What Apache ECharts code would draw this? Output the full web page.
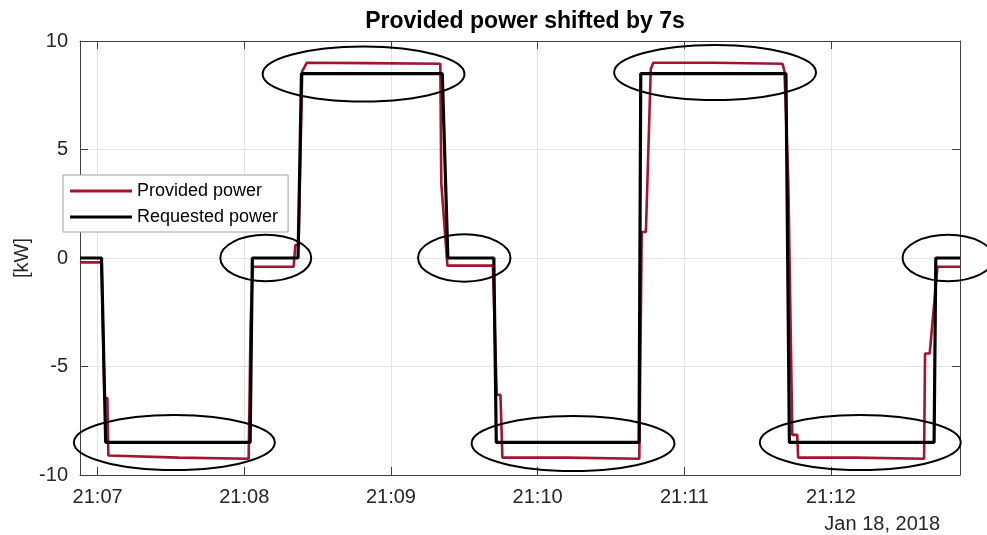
<!DOCTYPE html>
<html>
<head>
<meta charset="utf-8">
<script src="https://cdn.jsdelivr.net/npm/echarts@6/dist/echarts.min.js"></script>
<style>
  html, body { margin: 0; padding: 0; background: #fff; }
  #chart { width: 987px; height: 535px; }
</style>
</head>
<body>
<div id="chart"></div>
<script>
// Time values are seconds after 21:00:00 on Jan 18, 2018; power values in kW.
const timeRange = [412.8, 772.8];
const tickSeconds = [420, 480, 540, 600, 660, 720];
const tickLabels = ['21:07', '21:08', '21:09', '21:10', '21:11', '21:12'];
const dateLabel = 'Jan 18, 2018';

// Set-point issued to the unit: [time s, kW]
const requestedPower = [
  [412.8, 0], [421.6, 0], [423.3, -8.5], [482.4, -8.5], [483.3, 0],
  [502.0, 0], [503.4, 8.5], [561.0, 8.5], [563.3, 0], [582.1, 0],
  [583.1, -8.5], [641.5, -8.5], [642.2, 8.5], [701.6, 8.5], [703.0, -8.5],
  [762.2, -8.5], [762.9, 0], [772.8, 0]
];

// Measured output, already shifted by 7 s: [time s, kW]
const providedPower = [
  [412.8, -0.2], [421.6, -0.2], [422.8, -6.45], [424.0, -6.45], [424.4, -9.1],
  [453.0, -9.2], [481.8, -9.25], [482.6, -3.0], [483.5, -0.4], [500.2, -0.4],
  [500.9, 0.6], [502.2, 0.6], [503.7, 8.6], [504.4, 8.6], [505.6, 9.0],
  [530.0, 8.98], [560.2, 8.95], [560.6, 3.45], [563.1, -0.35], [581.7, -0.35],
  [583.3, -6.3], [584.8, -6.3], [585.6, -9.2], [612.0, -9.2], [641.6, -9.25],
  [642.6, 1.2], [644.3, 1.2], [646.3, 8.7], [647.3, 9.0], [672.0, 9.0],
  [700.2, 8.95], [701.0, 8.6], [702.6, 3.3], [703.4, 3.3], [704.2, -8.15],
  [706.2, -8.15], [706.6, -9.2], [730.0, -9.2], [758.1, -9.25], [758.5, -4.4],
  [760.4, -4.4], [763.6, -0.4], [772.8, -0.4]
];

// Ringed plateaus: [centre time s, centre kW, half width s, half height kW]
const highlights = [
  [451.4, -8.5, 41.1, 1.27],
  [528.8, 8.48, 41.3, 1.27],
  [488.8, 0.0, 18.6, 1.07],
  [570.0, 0.0, 18.9, 1.09],
  [614.5, -8.55, 41.5, 1.27],
  [672.6, 8.55, 41.3, 1.27],
  [732.0, -8.5, 41.1, 1.27],
  [767.9, 0.0, 18.6, 1.07]
];

const FONT = '"Liberation Sans", Arial, sans-serif';
const AXIS = '#404040';
const TEXT = '#262626';
const GRIDLINE = '#e3e3e3';
const RED = '#A2142F';

const chart = echarts.init(document.getElementById('chart'), null, { renderer: 'canvas' });

const boxAxis = {
  axisLine: { show: true, onZero: false, lineStyle: { color: AXIS, width: 1 } },
  axisLabel: { show: false },
  splitLine: { show: false }
};

chart.setOption({
  animation: false,
  backgroundColor: '#fff',
  textStyle: { fontFamily: FONT },
  title: {
    text: 'Provided power shifted by 7s',
    left: 520,
    top: 5,
    textAlign: 'center',
    textStyle: { fontSize: 23, fontWeight: 'bold', color: '#000', fontFamily: FONT }
  },
  grid: { left: 80, right: 27, top: 41, bottom: 60, containLabel: false, outerBoundsMode: 'none' },
  legend: {
    orient: 'vertical',
    left: 63,
    top: 175,
    padding: [7, 10, 6, 7],
    itemGap: 8,
    itemWidth: 62,
    itemHeight: 3,
    backgroundColor: '#fff',
    borderColor: '#a0a0a0',
    borderWidth: 1,
    textStyle: { fontSize: 18, color: '#000', fontFamily: FONT },
    data: [
      { name: 'Provided power', icon: 'rect' },
      { name: 'Requested power', icon: 'rect' }
    ]
  },
  xAxis: [
    {
      type: 'value',
      min: timeRange[0],
      max: timeRange[1],
      axisLine: { show: true, onZero: false, lineStyle: { color: AXIS, width: 1 } },
      axisTick: { show: true, inside: true, length: 8, customValues: tickSeconds, lineStyle: { color: AXIS } },
      axisLabel: {
        customValues: tickSeconds,
        formatter: v => tickLabels[tickSeconds.indexOf(Math.round(v))] || '',
        fontSize: 20, color: TEXT, margin: 12, fontFamily: FONT
      },
      splitLine: { show: true, lineStyle: { color: GRIDLINE, width: 1 } }
    },
    Object.assign({
      type: 'value', position: 'top', min: timeRange[0], max: timeRange[1],
      axisTick: { show: true, inside: true, length: 8, customValues: tickSeconds, lineStyle: { color: AXIS } }
    }, boxAxis)
  ],
  yAxis: [
    {
      type: 'value',
      min: -10, max: 10, interval: 5,
      name: '[kW]',
      nameLocation: 'middle',
      nameGap: 48,
      nameMoveOverlap: false,
      nameRotate: 90,
      nameTextStyle: { fontSize: 20, color: TEXT, fontFamily: FONT },
      axisLine: { show: true, onZero: false, lineStyle: { color: AXIS, width: 1 } },
      axisTick: { show: true, inside: true, length: 8, lineStyle: { color: AXIS } },
      axisLabel: { fontSize: 20, color: TEXT, margin: 12, fontFamily: FONT },
      splitLine: { show: true, lineStyle: { color: GRIDLINE, width: 1 } }
    },
    Object.assign({
      type: 'value', position: 'right', min: -10, max: 10, interval: 5,
      axisTick: { show: true, inside: true, length: 8, lineStyle: { color: AXIS } }
    }, boxAxis)
  ],
  series: [
    {
      name: 'Provided power',
      type: 'line',
      xAxisIndex: 0, yAxisIndex: 0,
      data: providedPower,
      showSymbol: false, symbol: 'none',
      lineStyle: { color: RED, width: 2.6 },
      itemStyle: { color: RED },
      z: 2
    },
    {
      name: 'Requested power',
      type: 'line',
      xAxisIndex: 0, yAxisIndex: 0,
      data: requestedPower,
      showSymbol: false, symbol: 'none',
      lineStyle: { color: '#000', width: 3.2 },
      itemStyle: { color: '#000' },
      z: 3
    }
  ]
});

// Rings around the plateaus, placed through the axes' own scales
const finder = { xAxisIndex: 0, yAxisIndex: 0 };
const rings = highlights.map(([t, v, dt, dv]) => {
  const c = chart.convertToPixel(finder, [t, v]);
  const e = chart.convertToPixel(finder, [t + dt, v + dv]);
  return {
    type: 'ellipse',
    silent: true,
    z: 100,
    shape: { cx: c[0], cy: c[1], rx: Math.abs(e[0] - c[0]), ry: Math.abs(e[1] - c[1]) },
    style: { fill: 'none', stroke: '#000', lineWidth: 2 }
  };
});

chart.setOption({
  graphic: rings.concat([{
    type: 'text',
    right: 47,
    top: 514,
    z: 100,
    style: { text: dateLabel, fontSize: 20, fontFamily: FONT, fill: TEXT }
  }])
});
</script>
</body>
</html>
